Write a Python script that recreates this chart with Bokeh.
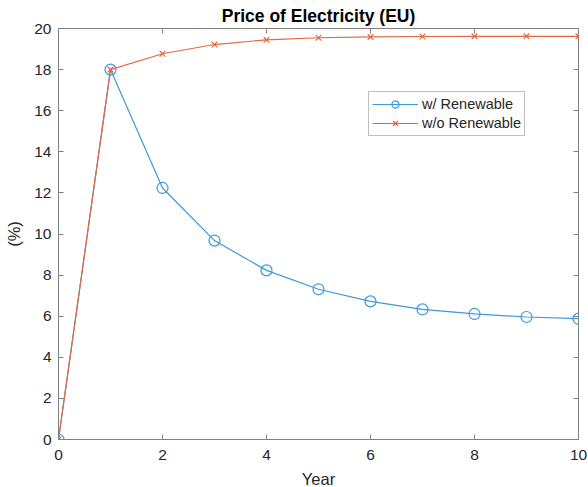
from bokeh.plotting import figure
from bokeh.models import (LinearAxis, Range1d, Legend, LegendItem, FixedTicker,
                          CustomJSTickFormatter)
from bokeh.embed import file_html
from bokeh.resources import INLINE

# Years and price series (%)
years = [0, 1, 2, 3, 4, 5, 6, 7, 8, 9, 10]
with_renewable = [0, 18.0, 12.24, 9.68, 8.23, 7.31, 6.72, 6.33, 6.11, 5.96, 5.88]
without_renewable = [0, 18.0, 18.77, 19.22, 19.45, 19.55, 19.59, 19.61, 19.62, 19.62, 19.62]
x_ticks = [0, 2, 4, 6, 8, 10]
y_ticks = [0, 2, 4, 6, 8, 10, 12, 14, 16, 18, 20]

BLUE = "#3d9ad8"
ORANGE = "#e2683f"
FONT = "Liberation Sans"
TXT = "#262626"
AX = "#808080"

p = figure(
    width=588, height=487,
    frame_width=520, frame_height=411,
    x_range=Range1d(0, 10), y_range=Range1d(0, 20),
    output_backend="svg", toolbar_location=None,
    min_border_left=58, min_border_right=10,
    min_border_top=28, min_border_bottom=48,
    x_axis_label="Year", y_axis_label="(%)",
)

p.title.text = "Price of Electricity (EU)"
p.title.align = "center"
p.title.text_font = FONT
p.title.text_font_size = "17.5px"
p.title.text_font_style = "bold"
p.title.text_color = "#000000"
p.title.standoff = 5
p.title.offset = 0

p.outline_line_color = AX
p.outline_line_width = 1
p.xgrid.visible = False
p.ygrid.visible = False
p.background_fill_color = "white"
p.border_fill_color = "white"

def style_axis(ax, ticks):
    ax.ticker = FixedTicker(ticks=ticks)
    ax.axis_line_color = None
    ax.major_tick_line_color = AX
    ax.major_tick_in = 5
    ax.major_tick_out = 0
    ax.minor_tick_line_color = None
    ax.major_label_text_font = FONT
    ax.major_label_text_font_size = "15.5px"
    ax.major_label_text_color = TXT
    ax.axis_label_text_font = FONT
    ax.axis_label_text_font_size = "16.5px"
    ax.axis_label_text_font_style = "normal"
    ax.axis_label_text_color = TXT

style_axis(p.xaxis[0], x_ticks)
style_axis(p.yaxis[0], y_ticks)
p.xaxis[0].major_label_standoff = 10
p.yaxis[0].major_label_standoff = 7
p.xaxis[0].axis_label_standoff = 7
p.yaxis[0].axis_label_standoff = 8

# Box ticks on the top and right edges, without labels
blank = CustomJSTickFormatter(code="return ''")
top = LinearAxis(formatter=blank)
style_axis(top, x_ticks)
top.major_label_standoff = 0
p.add_layout(top, "above")

right = LinearAxis(formatter=blank)
style_axis(right, y_ticks)
right.major_label_standoff = 0
p.add_layout(right, "right")

l1 = p.line(years, with_renewable, line_color=BLUE, line_width=1.2)
m1 = p.scatter(years, with_renewable, marker="circle", size=11,
               line_color=BLUE, fill_color=None, line_width=1.2)
l2 = p.line(years, without_renewable, line_color=ORANGE, line_width=1.2)
m2 = p.scatter(years, without_renewable, marker="x", size=8,
               line_color=ORANGE, line_width=1.2)

legend = Legend(
    items=[LegendItem(label="w/ Renewable", renderers=[l1, m1]),
           LegendItem(label="w/o Renewable", renderers=[l2, m2])],
    location=(310, 303),
    glyph_width=46, glyph_height=18,
    label_text_font=FONT, label_text_font_size="14.5px", label_text_color=TXT,
    label_standoff=4, spacing=1,
    padding=3, margin=0,
    border_line_color=AX, border_line_width=1,
    background_fill_color="white", background_fill_alpha=1,
)
p.add_layout(legend, "center")

open("out.html", "w").write(file_html(p, INLINE))
